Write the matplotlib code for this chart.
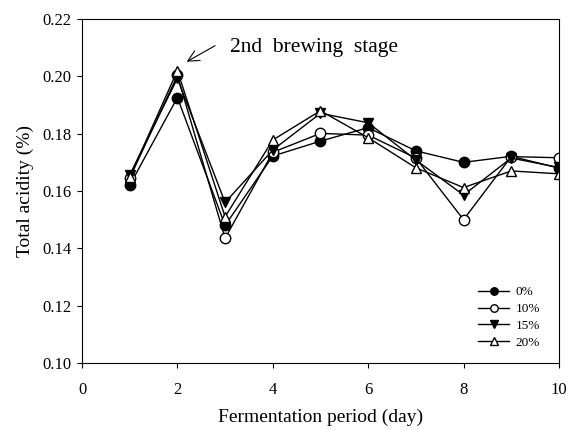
import matplotlib
matplotlib.use("Agg")
import matplotlib.pyplot as plt

plt.rcParams['font.family'] = ['Liberation Serif', 'DejaVu Serif']

days = [1, 2, 3, 4, 5, 6, 7, 8, 9, 10]
acid_0 = [0.162, 0.1926, 0.148, 0.1722, 0.1774, 0.1821, 0.1740, 0.1700, 0.1721, 0.1680]
acid_10 = [0.1645, 0.2003, 0.1435, 0.1735, 0.1801, 0.1795, 0.1715, 0.1500, 0.1720, 0.1716]
acid_15 = [0.1656, 0.1993, 0.1560, 0.1743, 0.1871, 0.1838, 0.1708, 0.1586, 0.1715, 0.1682]
acid_20 = [0.1648, 0.2020, 0.1510, 0.1778, 0.1880, 0.1786, 0.1681, 0.1612, 0.1670, 0.1660]

labels = ['0%', '10%', '15%', '20%']
yticks = [0.10, 0.12, 0.14, 0.16, 0.18, 0.20, 0.22]

fig = plt.figure(figsize=(5.68, 4.30), dpi=100)
ax = fig.add_axes([0.1444, 0.1558, 0.8396, 0.8])

ms = 7.5
ax.plot(days, acid_0, '-o', color='black', mfc='black', ms=ms, lw=1, label=labels[0])
ax.plot(days, acid_10, '-o', color='black', mfc='white', ms=ms, lw=1, label=labels[1])
ax.plot(days, acid_15, '-v', color='black', mfc='black', ms=ms, lw=1, label=labels[2])
ax.plot(days, acid_20, '-^', color='black', mfc='white', ms=ms, lw=1, label=labels[3])

ax.set_xlim(0, 10)
ax.set_ylim(0.10, 0.22)
ax.set_xticks([0, 2, 4, 6, 8, 10])
ax.set_yticks(yticks)
ax.set_yticklabels(['%.2f' % v for v in yticks])
ax.tick_params(direction='out', labelsize=12, length=3.5)
ax.tick_params(axis='y', pad=4)
ax.tick_params(axis='x', pad=10)

ax.set_xlabel('Fermentation period (day)', fontsize=14, labelpad=8)
ax.set_ylabel('Total acidity (%)', fontsize=14, labelpad=6)

# annotation for 2nd brewing stage
ax.annotate('', xy=(2.195, 0.2051), xytext=(2.79, 0.2107),
            arrowprops=dict(arrowstyle='->', color='black', lw=0.8,
                            mutation_scale=20, shrinkA=0, shrinkB=0))
ax.text(3.10, 0.2085, '2nd  brewing  stage', fontsize=15.5, va='baseline', ha='left')

ax.legend(loc='lower right', bbox_to_anchor=(0.985, 0.0065), frameon=False,
          fontsize=9.5, handlelength=2.3, labelspacing=0.35, handletextpad=0.5,
          markerscale=0.72)

fig.savefig('out.png', dpi=100)
